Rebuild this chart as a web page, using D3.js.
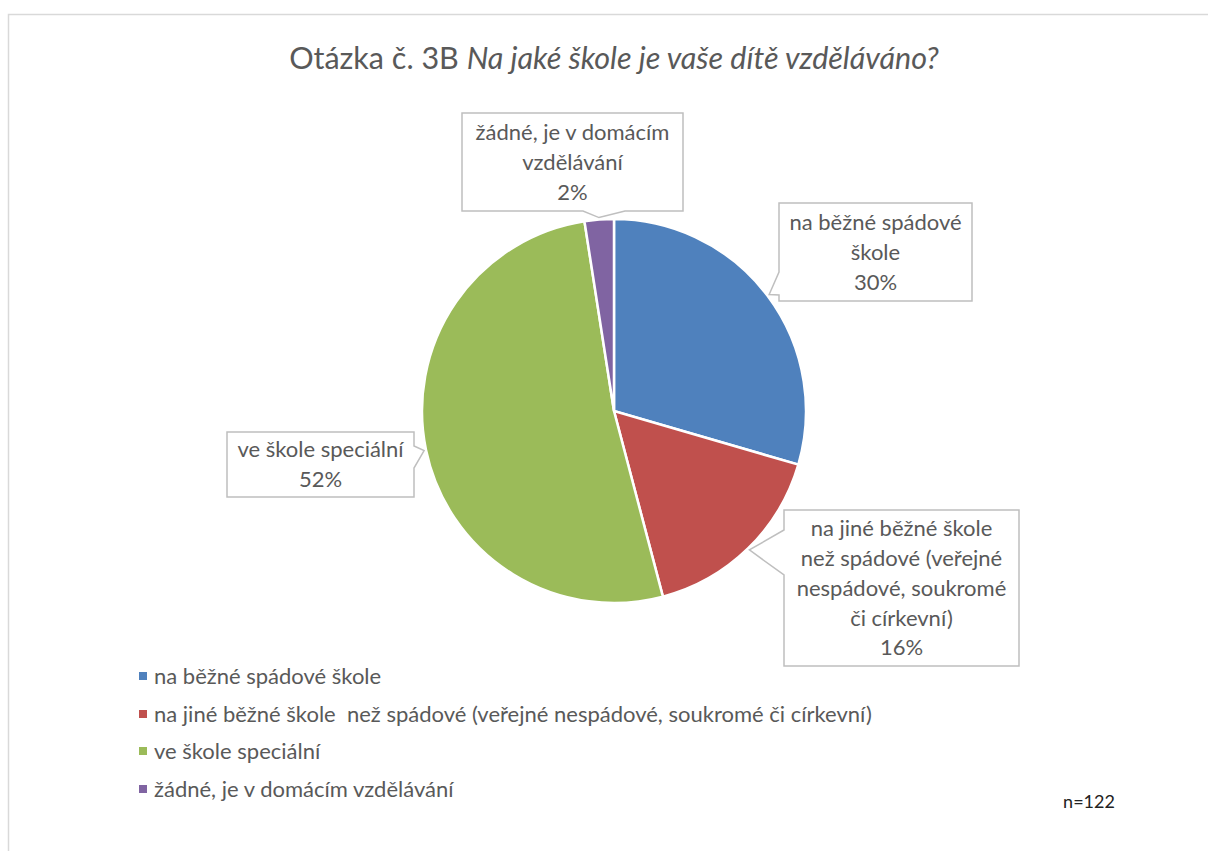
<!DOCTYPE html>
<html><head><meta charset="utf-8">
<script src="https://cdn.jsdelivr.net/npm/d3@7"></script>
<style>body{margin:0;background:#fff}</style>
</head><body>
<svg id="c" width="1208" height="851"></svg>
<script>
const categories = ["na běžné spádové škole","na jiné běžné škole  než spádové (veřejné nespádové, soukromé či církevní)","ve škole speciální","žádné, je v domácím vzdělávání"];
const counts = [36, 20, 63, 3];
const percentLabels = ["30%","16%","52%","2%"];
const calloutLines = [["na běžné spádové","škole"],["na jiné běžné škole","než spádové (veřejné","nespádové, soukromé","či církevní)"],["ve škole speciální"],["žádné, je v domácím","vzdělávání"]];
const colors = ["#4F81BD","#C0504D","#9BBB59","#8064A2"];
const titlePlain = "Otázka č. 3B ";
const titleItalic = "Na jaké škole je vaše dítě vzděláváno?";
const nLabel = "n=122";

const FONT = "Lato, 'Open Sans', sans-serif";
const svg = d3.select("#c");
svg.append("rect").attr("x",8.5).attr("y",14.5).attr("width",1300).attr("height",900).attr("fill","#fff").attr("stroke","#d9d9d9").attr("stroke-width",1.5);

const title = svg.append("text").attr("x",614).attr("y",69).attr("text-anchor","middle")
  .attr("font-family",FONT).attr("font-size",30.5).attr("fill","#595959");
title.append("tspan").attr("xml:space","preserve").text(titlePlain);
title.append("tspan").attr("font-style","italic").text(titleItalic);

const cx=614, cy=411, R=192;
const pie = d3.pie().sort(null).value(d=>d)(counts);
const arc = d3.arc().innerRadius(0).outerRadius(R);
const g = svg.append("g").attr("transform",`translate(${cx},${cy})`);
g.selectAll("path").data(pie).join("path").attr("d",arc).attr("fill",(d,i)=>colors[i]).attr("stroke","#fff").attr("stroke-width",2.5);

// callouts: box layout [x,y,w,h, side, base1, base2]
const boxes = [
  [779,203,193,98,"left",272,295],
  [784,510,235,156,"left",530,575],
  [227,432,187,65,"right",446,468],
  [462,113,221,98,"bottom",583,625]
];
const tipArc = d3.arc().innerRadius(R+2).outerRadius(R+2);
pie.forEach((d,i)=>{
  const [x,y,w,h,side,b1,b2] = boxes[i];
  const c = tipArc.centroid(d); const tx=cx+c[0], ty=cy+c[1];
  let pts;
  if(side==="left") pts=[[x,y],[x+w,y],[x+w,y+h],[x,y+h],[x,b2],[tx,ty],[x,b1]];
  else if(side==="right") pts=[[x,y],[x+w,y],[x+w,b1],[tx,ty],[x+w,b2],[x+w,y+h],[x,y+h]];
  else pts=[[x,y],[x+w,y],[x+w,y+h],[b2,y+h],[tx,ty],[b1,y+h],[x,y+h]];
  svg.append("path").attr("d","M"+pts.map(p=>p.join(",")).join("L")+"Z").attr("fill","#fff").attr("stroke","#bfbfbf").attr("stroke-width",1.5);
  const lines = calloutLines[i].concat([percentLabels[i]]);
  const lh=29.8, cyb=y+h/2;
  lines.forEach((t,k)=>{
    svg.append("text").attr("x",x+w/2).attr("y",cyb+(k-(lines.length-1)/2)*lh).attr("dy","0.35em")
      .attr("text-anchor","middle").attr("font-family",FONT).attr("font-size",22).attr("fill","#595959").text(t);
  });
});

// legend
const ly=[676,714,751,789];
categories.forEach((t,i)=>{
  svg.append("rect").attr("x",139).attr("y",ly[i]-4).attr("width",8).attr("height",8).attr("fill",colors[i]);
  svg.append("text").attr("x",154).attr("y",ly[i]).attr("dy","0.35em").attr("font-family",FONT).attr("font-size",22).attr("fill","#595959").attr("xml:space","preserve").style("white-space","pre").text(t);
});

svg.append("text").attr("x",1089).attr("y",802).attr("dy","0.35em").attr("text-anchor","middle").attr("font-family",FONT).attr("font-size",18).attr("fill","#222").text(nLabel);
</script>
</body></html>
